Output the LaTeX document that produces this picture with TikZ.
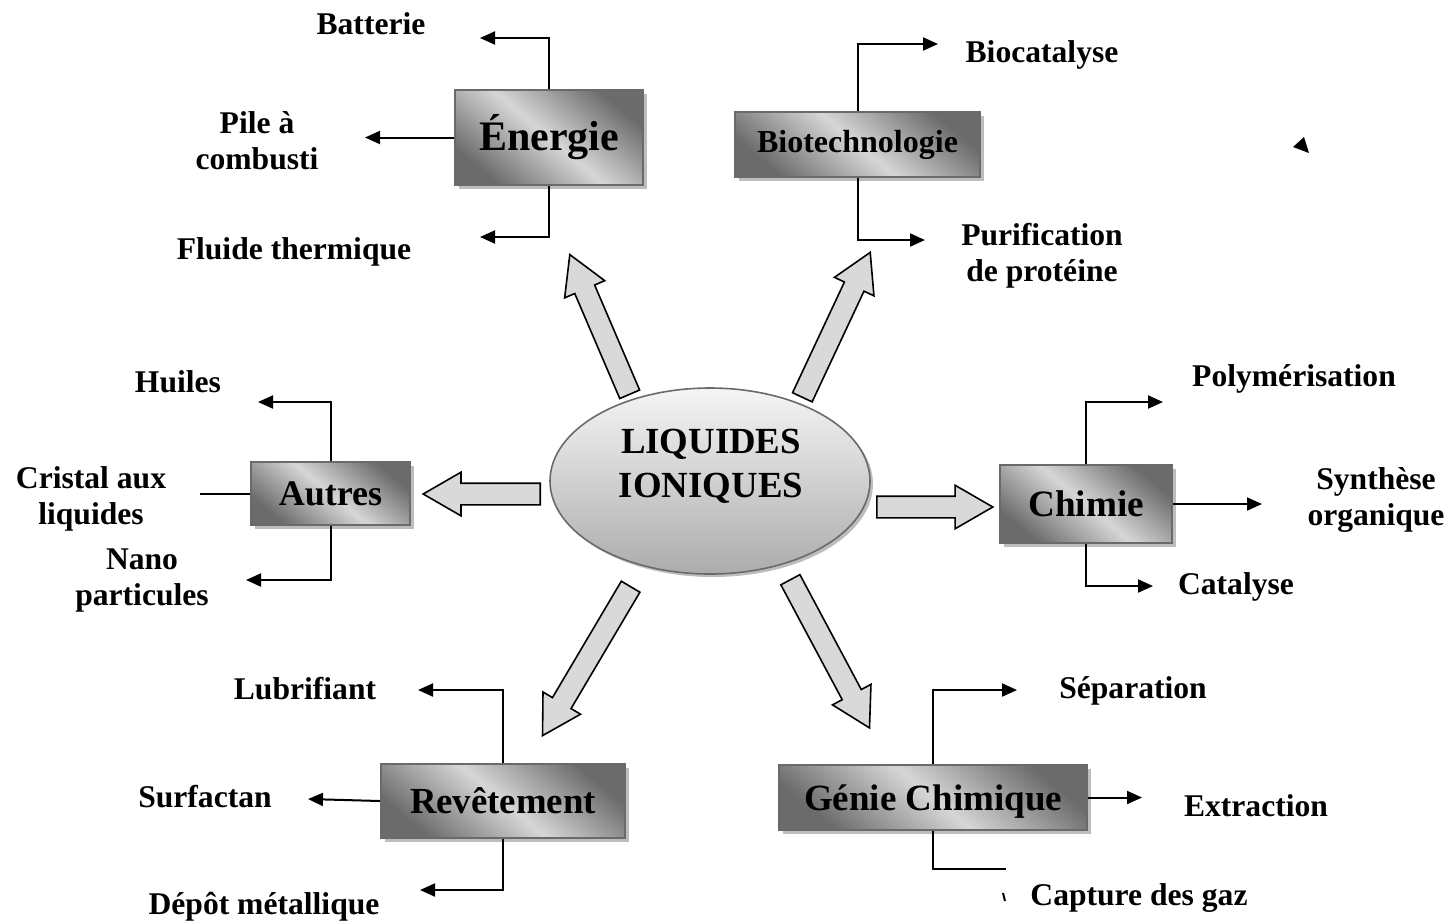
\documentclass[tikz,border=0pt]{standalone}
\usepackage{fontspec}
\setmainfont{Liberation Serif}
\usetikzlibrary{arrows.meta,shapes.geometric,shapes.arrows,shadows}
\definecolor{bordgris}{HTML}{6A6A6A}
\definecolor{ombre}{HTML}{BDBDBD}

\begin{document}
\begin{tikzpicture}[x=0.5pt,y=-0.5pt,
  boite/.style={draw=bordgris, line width=0.8pt, inner sep=0pt,
    top color=black!58, bottom color=black!58, middle color=black!16, shading angle=-40,
    drop shadow={shadow xshift=2pt, shadow yshift=-2pt, fill=ombre, opacity=1}},
  centre/.style={ellipse, draw=bordgris, line width=0.8pt, inner sep=0pt,
    minimum width=160pt, minimum height=93pt, top color=gray!8, bottom color=gray!65,
    drop shadow={shadow xshift=1.5pt, shadow yshift=-1.5pt, fill=ombre, opacity=1}},
  fleche/.style={single arrow, draw=black, fill=gray!30, line width=0.8pt,
    inner xsep=0pt, inner ysep=5pt, minimum width=21pt, single arrow head extend=5.5pt,
    single arrow tip angle=60, anchor=tail},
  fil/.style={line width=1pt, -{Triangle[length=7.5pt,width=6.5pt]}},
  lien/.style={line width=1pt},
  etiq/.style={font=\fontsize{15.8}{18}\selectfont\bfseries, align=center, inner sep=0pt}]
\useasboundingbox (0,0) rectangle (1454,923);

\node[centre] (liq) at (710,481) {};
\node[font=\fontsize{18.4}{22}\selectfont\bfseries, align=center, inner sep=0pt] (titre) at (711,466) {LIQUIDES\\IONIQUES};

\node[boite, minimum width=94pt, minimum height=47.5pt, font=\fontsize{21}{24}\selectfont\bfseries] (energie) at (549,137.5) {Énergie};
\node[boite, minimum width=122.5pt, minimum height=32.5pt, font=\fontsize{16}{19}\selectfont\bfseries] (bio) at (857.5,144.5) {Biotechnologie};
\node[boite, minimum width=79.5pt, minimum height=31.5pt, font=\fontsize{18}{21}\selectfont\bfseries] (autres) at (330.5,493.5) {Autres};
\node[boite, minimum width=86pt, minimum height=39pt, font=\fontsize{18.6}{21}\selectfont\bfseries] (chimie) at (1086,504) {Chimie};
\node[boite, minimum width=122pt, minimum height=37pt, font=\fontsize{18.4}{21}\selectfont\bfseries] (revet) at (503,801) {Revêtement};
\node[boite, minimum width=154pt, minimum height=32.5pt, text depth=0pt, font=\fontsize{18.5}{21}\selectfont\bfseries] (genie) at (933,797.5) {Génie Chimique};

\node[fleche, rotate=113.2, minimum height=76pt] (fe) at (630,395) {};
\node[fleche, rotate=64.9, minimum height=80pt] (fb) at (802,398) {};
\node[fleche, rotate=180, minimum height=58.5pt] (fa) at (541,494) {};
\node[fleche, rotate=0, minimum height=58pt] (fc) at (876,507) {};
\node[fleche, rotate=-120.6, minimum height=86.5pt] (fr) at (631,586) {};
\node[fleche, rotate=-61.9, minimum height=84pt] (fg) at (790,579) {};

\node[etiq] (batterie) at (371,24) {Batterie};
\node[etiq] (pile) at (257,141) {Pile à\\combusti};
\node[etiq] (fluide) at (294,252) {Fluide thermique};
\node[etiq] (biocat) at (1042,55) {Biocatalyse};
\node[etiq] (purif) at (1042,256) {Purification\\de protéine};
\node[etiq] (huiles) at (178,382) {Huiles};
\node[etiq] (cristal) at (91,499) {Cristal aux\\liquides};
\node[etiq] (nano) at (142,580) {Nano\\particules};
\node[etiq] (polym) at (1294,379) {Polymérisation};
\node[etiq] (synth) at (1376,500) {Synthèse\\organique};
\node[etiq] (catal) at (1236,587) {Catalyse};
\node[etiq] (separ) at (1133,691) {Séparation};
\node[etiq] (extr) at (1256,806) {Extraction};
\node[etiq] (capt) at (1139,898) {Capture des gaz};
\node[etiq] (lubri) at (305,689) {Lubrifiant};
\node[etiq] (surf) at (205,797) {Surfactan};
\node[etiq] (depot) at (264,907) {Dépôt métallique};

\coordinate (e1) at (480,38);
\coordinate (e2) at (365,137.5);
\coordinate (e3) at (480,237);
\draw[fil] (energie.north) |- (e1);
\draw[fil] (energie.west) -- (e2);
\draw[fil] (energie.south) |- (e3);

\coordinate (b1) at (938,44);
\coordinate (b2) at (925,240);
\draw[fil] (bio.north) |- (b1);
\draw[fil] (bio.south) |- (b2);

\coordinate (a1) at (258,402);
\coordinate (a2) at (200,493.5);
\coordinate (a3) at (246,580);
\draw[fil] (autres.north) |- (a1);
\draw[lien] (autres.west) -- (a2);
\draw[fil] (autres.south) |- (a3);

\coordinate (c1) at (1163,402);
\coordinate (c2) at (1262,504);
\coordinate (c3) at (1153,586);
\draw[fil] (chimie.north) |- (c1);
\draw[fil] (chimie.east) -- (c2);
\draw[fil] (chimie.south) |- (c3);

\coordinate (g1) at (1017,690);
\coordinate (g2) at (1142,797.5);
\coordinate (g3) at (1006,869);
\draw[fil] (genie.north) |- (g1);
\draw[fil] (genie.east) -- (g2);
\draw[lien] (genie.south) |- (g3);

\coordinate (r1) at (418,690);
\coordinate (r2) at (308,799);
\coordinate (r3) at (420,890);
\draw[fil] (revet.north) |- (r1);
\draw[fil] (revet.west) -- (r2);
\draw[fil] (revet.south) |- (r3);

\fill (1293,147) -- (1304,137) -- (1309,153) -- cycle;
\draw[lien] (1003,893) -- (1005,901);
\end{tikzpicture}
\end{document}
